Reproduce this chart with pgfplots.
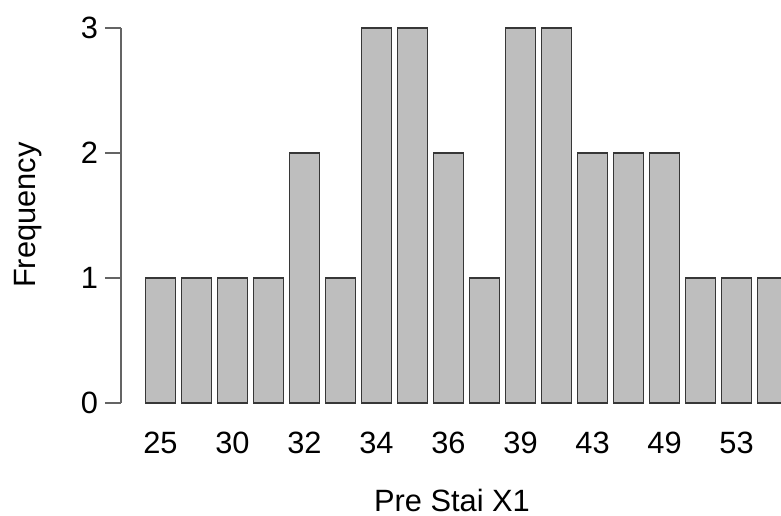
\documentclass[border=0pt]{standalone}
\usepackage{pgfplots}
\pgfplotsset{compat=1.18}
\usepackage{fontspec}
\setmainfont{Liberation Sans}
\definecolor{barfill}{RGB}{190,190,190}
\definecolor{bardraw}{RGB}{55,55,55}
\definecolor{axcol}{RGB}{100,100,100}
\begin{document}
\begin{tikzpicture}
\begin{axis}[
  at={(60.5pt,56pt)}, anchor=south west,
  scale only axis, width=330pt, height=187.5pt,
  xmin=-1.0972, xmax=17.2361, ymin=0, ymax=3,
  clip=false,
  axis y line=left, axis x line=bottom,
  x axis line style={draw=none},
  y axis line style={-, draw=axcol, line width=0.6pt},
  xtick={0,2,...,16},
  xticklabels={25,30,32,34,36,39,43,49,53},
  ytick={0,1,2,3},
  tick align=outside,
  major tick length=8pt,
  xtick style={draw=none},
  ytick style={draw=axcol, line width=0.6pt},
  /pgf/number format/assume math mode=true,
  tick label style={font=\fontsize{15.4}{18}\selectfont},
  xticklabel style={yshift=-3pt},
  label style={font=\fontsize{15.4}{18}\selectfont},
  xlabel={Pre Stai X1},
  ylabel={Frequency},
  xlabel style={at={(axis description cs:0.5015,-0.2587)}, anchor=center},
  ylabel style={at={(axis description cs:-0.1409,0.501)}, anchor=center, rotate=0},
]
\addplot[ybar, bar width=0.8333, bar shift=0pt, fill=barfill, draw=bardraw, line width=0.7pt]
  coordinates {(0,1) (1,1) (2,1) (3,1) (4,2) (5,1) (6,3) (7,3) (8,2) (9,1) (10,3) (11,3) (12,2) (13,2) (14,2) (15,1) (16,1) (17,1)};
\end{axis}
\pgfresetboundingbox
\useasboundingbox (0pt,0pt) rectangle (390.5pt,257.5pt);
\end{tikzpicture}
\end{document}
